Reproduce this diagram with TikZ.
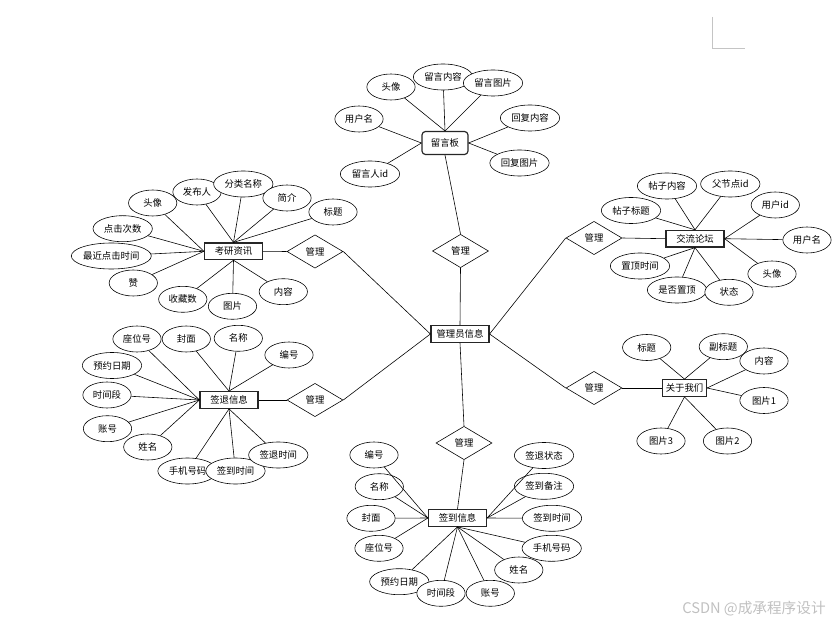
\documentclass[tikz,border=0pt]{standalone}
\usepackage{fontspec}
\setmainfont{Noto Sans CJK SC}
\usetikzlibrary{shapes.geometric}
\definecolor{pagemark}{HTML}{C4C4C4}
\definecolor{wmgray}{HTML}{C0C0C0}

\begin{document}
\begin{tikzpicture}[
    x=0.03cm, y=-0.03cm,
    font=\fontsize{8}{9.6}\selectfont,
    every node/.style={inner sep=0pt},
    attr/.style={
        draw, fill=white, ellipse, line width=0.5pt,
        minimum width=1.45cm, minimum height=0.78cm
    },
    attrw/.style={attr, minimum width=1.78cm},
    entity/.style={
        draw=black!85, fill=white, line width=1pt,
        minimum width=1.74cm, minimum height=0.5cm
    },
    rel/.style={
        draw, fill=white, diamond, line width=0.5pt,
        minimum width=1.68cm, minimum height=1cm
    },
    link/.style={line width=0.5pt},
]
\useasboundingbox (0,0) rectangle (839,626);

% ============ CENTRE: admin + relations ============
\node[entity] (admin) at (460,334) {管理员信息};
\node[rel] (dBoard) at (460.5,251) {管理};
\node[rel] (dNews) at (315,251.5) {管理};
\node[rel] (dOut) at (315,400) {管理};
\node[rel] (dForum) at (594,238) {管理};
\node[rel] (dAbout) at (594,388) {管理};
\node[rel] (dIn) at (464,443) {管理};

% ============ 留言板 ============
\node[entity, rounded corners=3pt, minimum width=1.38cm, minimum height=0.69cm] (board) at (445,143) {留言板};
\node[attr] (b1) at (391,87) {头像};
\node[attrw] (b2) at (443,77) {留言内容};
\node[attrw] (b3) at (493,83) {留言图片};
\node[attr] (b4) at (359,119) {用户名};
\node[attrw] (b5) at (530,118) {回复内容};
\node[attrw] (b6) at (519.5,163) {回复图片};
\node[attrw] (b7) at (370,174) {留言人id};

% ============ 考研资讯 ============
\node[entity] (news) at (233.5,251.3) {考研资讯};
\node[attr] (n1) at (152.7,203) {头像};
\node[attr] (n2) at (197,192) {发布人};
\node[attrw] (n3) at (243.3,184) {分类名称};
\node[attr] (n4) at (287,198) {简介};
\node[attr] (n5) at (333,212) {标题};
\node[attrw] (n6) at (122.7,228.7) {点击次数};
\node[attr, minimum width=2.4cm] (n7) at (111.3,256) {最近点击时间};
\node[attr] (n8) at (133.3,283) {赞};
\node[attr] (n9) at (182.8,299.3) {收藏数};
\node[attr] (n10) at (232.5,306.3) {图片};
\node[attr] (n11) at (283.3,291.7) {内容};

% ============ 交流论坛 ============
\node[entity] (forum) at (695,238.7) {交流论坛};
\node[attrw] (f1) at (667,186) {帖子内容};
\node[attrw] (f2) at (730.3,184) {父节点id};
\node[attrw] (f3) at (631,210.5) {帖子标题};
\node[attr] (f4) at (775.3,205) {用户id};
\node[attr] (f5) at (807,240) {用户名};
\node[attr] (f6) at (772,274) {头像};
\node[attrw] (f7) at (640,266) {置顶时间};
\node[attrw] (f8) at (677,290) {是否置顶};
\node[attr] (f9) at (729,292.3) {状态};

% ============ 签退信息 ============
\node[entity] (signout) at (229,400) {签退信息};
\node[attr] (o1) at (137,339) {座位号};
\node[attr] (o2) at (186.3,339) {封面};
\node[attr] (o3) at (238.3,338.3) {名称};
\node[attr] (o4) at (289,355) {编号};
\node[attrw] (o5) at (112,365.5) {预约日期};
\node[attr] (o6) at (107,395) {时间段};
\node[attr] (o7) at (107.5,428.7) {账号};
\node[attr] (o8) at (147.8,447) {姓名};
\node[attrw] (o9) at (187.5,471) {手机号码};
\node[attrw] (o10) at (235.5,471) {签到时间};
\node[attrw] (o11) at (278.3,455) {签退时间};

% ============ 关于我们 ============
\node[entity, minimum width=1.32cm] (about) at (684.5,388) {关于我们};
\node[attr] (a1) at (646.7,347.5) {标题};
\node[attr] (a2) at (723.3,346.7) {副标题};
\node[attr] (a3) at (764,361) {内容};
\node[attr] (a4) at (764,400.5) {图片1};
\node[attr] (a5) at (727.5,441) {图片2};
\node[attr] (a6) at (661,441) {图片3};

% ============ 签到信息 ============
\node[entity] (signin) at (457.5,518) {签到信息};
\node[attr] (s1) at (374,455) {编号};
\node[attr] (s2) at (379.3,486.7) {名称};
\node[attr] (s3) at (371,518.3) {封面};
\node[attr] (s4) at (379,548.3) {座位号};
\node[attrw] (s5) at (399.3,581.7) {预约日期};
\node[attr] (s6) at (441,593.3) {时间段};
\node[attr] (s7) at (490.3,593.3) {账号};
\node[attr] (s8) at (518.8,570) {姓名};
\node[attrw] (s9) at (551.7,548.3) {手机号码};
\node[attrw] (s10) at (552,518.3) {签到时间};
\node[attrw] (s11) at (544,486.3) {签到备注};
\node[attrw] (s12) at (544,455.5) {签退状态};

% Relations
\draw[link] (admin.north) -- (dBoard.south);
\draw[link] (dBoard.north) -- (board.south);
\draw[link] (admin.west) -- (dNews.east);
\draw[link] (dNews.west) -- (news.east);
\draw[link] (admin.west) -- (dOut.east);
\draw[link] (dOut.west) -- (signout.east);
\draw[link] (admin.east) -- (dForum.west);
\draw[link] (dForum.east) -- (forum.west);
\draw[link] (admin.east) -- (dAbout.west);
\draw[link] (dAbout.east) -- (about.west);
\draw[link] (admin.south) -- (dIn.north);
\draw[link] (dIn.south) -- (signin.north);

% Attribute links
\foreach \a in {b1,b2,b3} \draw[link] (board.north) -- (\a);
\foreach \a in {b4,b7} \draw[link] (board.west) -- (\a);
\foreach \a in {b5,b6} \draw[link] (board.east) -- (\a);

\foreach \a in {n1,n6,n7,n8} \draw[link] (news.west) -- (\a);
\foreach \a in {n2,n3,n4,n5} \draw[link] (news.north) -- (\a);
\foreach \a in {n9,n10,n11} \draw[link] (news.south) -- (\a);

\foreach \a in {f1,f2,f3} \draw[link] (forum.north) -- (\a);
\foreach \a in {f4,f5,f6} \draw[link] (forum.east) -- (\a);
\foreach \a in {f7,f8,f9} \draw[link] (forum.south) -- (\a);

\foreach \a in {o1,o5,o6,o7,o8} \draw[link] (signout.west) -- (\a);
\foreach \a in {o2,o3,o4} \draw[link] (signout.north) -- (\a);
\foreach \a in {o9,o10,o11} \draw[link] (signout.south) -- (\a);

\foreach \a in {a1,a2} \draw[link] (about.north) -- (\a);
\foreach \a in {a3,a4} \draw[link] (about.east) -- (\a);
\foreach \a in {a5,a6} \draw[link] (about.south) -- (\a);

\foreach \a in {s1,s2,s3,s4} \draw[link] (signin.west) -- (\a);
\foreach \a in {s10,s11,s12} \draw[link] (signin.east) -- (\a);
\foreach \a in {s5,s6,s7,s8,s9} \draw[link] (signin.south) -- (\a);

% page corner mark and watermark
\draw[pagemark, line width=0.6pt] (712,17) -- (712,48) -- (745,48);
\node[text=wmgray, font=\fontsize{12.5}{14}\selectfont] (wm) at (754,609) {CSDN @成承程序设计};

\end{tikzpicture}
\end{document}
